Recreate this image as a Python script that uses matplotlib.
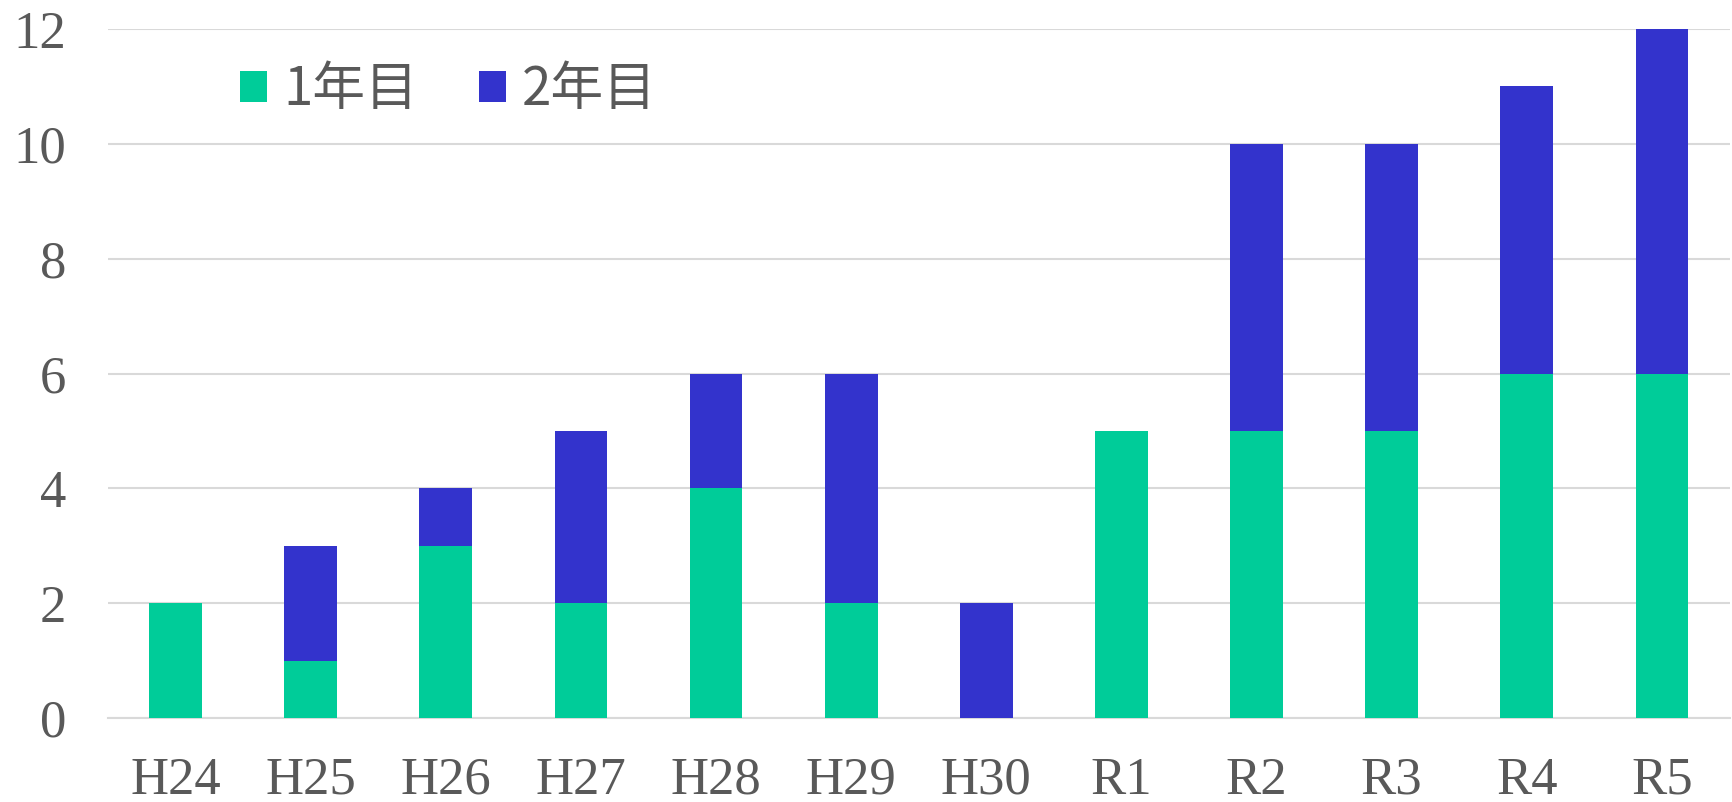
import matplotlib

matplotlib.use("Agg")
import matplotlib.pyplot as plt
import numpy as np

# values
years = ["H24", "H25", "H26", "H27", "H28", "H29", "H30", "R1", "R2", "R3", "R4", "R5"]
first_year = [2, 1, 3, 2, 4, 2, 0, 5, 5, 5, 6, 6]
second_year = [0, 2, 1, 3, 2, 4, 2, 0, 5, 5, 5, 6]
series_labels = ["1年目", "2年目"]
y_ticks = [0, 2, 4, 6, 8, 10, 12]

GREEN = "#00CC99"
BLUE = "#3333CC"
GRID = "#D9D9D9"
TEXT = "#595959"

fig = plt.figure(figsize=(17.33, 8.02), dpi=100)
ax = fig.add_axes([0.0623, 0.1047, 0.9357, 0.8591])

x = np.arange(len(years))
width = 0.39
ax.bar(x, first_year, width, color=GREEN, label=series_labels[0], zorder=3)
ax.bar(x, second_year, width, bottom=first_year, color=BLUE, label=series_labels[1], zorder=3)

ax.set_xlim(-0.5, len(years) - 0.5)
ax.set_ylim(0, 12)
ax.set_yticks(y_ticks)
ax.set_xticks(x)
ax.set_xticklabels(years)
ax.yaxis.grid(True, color=GRID, linewidth=1.5, zorder=0)
ax.set_axisbelow(True)
for side in ("top", "right", "left"):
    ax.spines[side].set_visible(False)
ax.spines["bottom"].set_color(GRID)
ax.spines["bottom"].set_linewidth(1.5)

for label in ax.get_xticklabels() + ax.get_yticklabels():
    label.set_fontfamily("Liberation Serif")
    label.set_fontsize(38)
    label.set_color(TEXT)
ax.tick_params(axis="both", length=0)
ax.tick_params(axis="y", pad=30)
ax.tick_params(axis="x", pad=28)

leg = ax.legend(
    loc="center left",
    bbox_to_anchor=(0.111, 0.888),
    bbox_transform=fig.transFigure,
    ncol=2,
    frameon=False,
    handlelength=0.52,
    handleheight=0.52,
    handletextpad=0.3,
    columnspacing=1.15,
    prop={"family": ["Noto Sans CJK JP", "DejaVu Sans"], "size": 38},
)
for text in leg.get_texts():
    text.set_color(TEXT)

fig.savefig("out.png", dpi=100, facecolor="white")
